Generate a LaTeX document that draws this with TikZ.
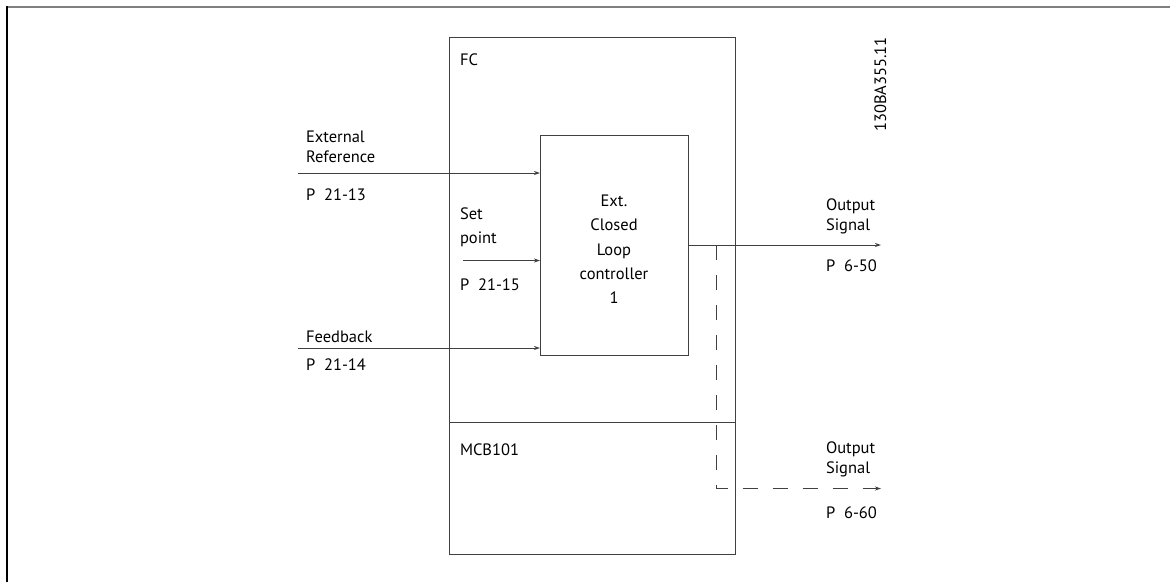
\documentclass[tikz,border=0pt]{standalone}
\usepackage{fontspec}
\setmainfont{PT Sans}
\usetikzlibrary{arrows.meta}
\begin{document}
\begin{tikzpicture}[x=1pt,y=-1pt,
  every node/.style={inner sep=0pt,outer sep=0pt},
  txt/.style={font=\fontsize{16.5}{20}\selectfont,anchor=base west},
  boxline/.style={draw=black!75,line width=1pt},
  arr/.style={draw=black!75,line width=1pt,-{Stealth[length=6pt,width=4pt]}},
  dasharr/.style={arr,dash pattern=on 15pt off 15pt}]
\useasboundingbox (0,0) rectangle (1170,582);
% frame
\draw[black!50,line width=2pt] (6,6.5) -- (1170,6.5);
\draw[black,line width=2pt] (6.5,6) -- (6.5,582);
% FC box
\node[boxline,anchor=north west,minimum width=286pt,minimum height=517pt] (fc) at (449,37) {};
\node[boxline,anchor=north west,minimum width=286pt,minimum height=132pt] (mcb) at (449,422) {};
\node[txt] (fclbl) at (460,65) {FC};
\node[txt] (mcblbl) at (460,455) {MCB101};
% controller
\node[boxline,anchor=north west,minimum width=148pt,minimum height=220pt] (ctrl) at (540,135.5) {};
\node[font=\fontsize{16.5}{24.3}\selectfont,align=center,anchor=north] (ctrltxt) at (614,195) {Ext.\\Closed\\Loop\\controller\\1};
% inputs
\coordinate (er) at (298,173);
\coordinate (sp) at (463,260.5);
\coordinate (fb) at (298,348);
\draw[arr] (er) -- (er -| ctrl.west);
\draw[arr] (sp) -- (sp -| ctrl.west);
\draw[arr] (fb) -- (fb -| ctrl.west);
\node[txt] (erl1) at (306,142) {External};
\node[txt] (erl2) at (306,162.5) {Reference};
\node[txt] (erp) at (306,200) {P~~21-13};
\node[txt] (spl1) at (460,219) {Set};
\node[txt] (spl2) at (460,243) {point};
\node[txt] (spp) at (460,290) {P~~21-15};
\node[txt] (fbl) at (306,342.5) {Feedback};
\node[txt] (fbp) at (306,370) {P~~21-14};
% outputs
\coordinate (o1) at (881,245);
\coordinate (dtop) at (716,245);
\coordinate (dcor) at (716,488.5);
\coordinate (o2) at (881,488.5);
\draw[arr] (ctrl.east |- o1) -- (o1);
\draw[dasharr] (dtop) -- (dcor) -- (o2);
\node[txt] (o1l1) at (826,210) {Output};
\node[txt] (o1l2) at (826,230.5) {Signal};
\node[txt] (o1p) at (826,271) {P~~6-50};
\node[txt] (o2l1) at (826,453) {Output};
\node[txt] (o2l2) at (826,473.5) {Signal};
\node[txt] (o2p) at (826,518) {P~~6-60};
% drawing number
\node[font=\fontsize{16.5}{20}\selectfont,rotate=90,anchor=base] (num) at (886,84.5) {130BA355.11};
\end{tikzpicture}
\end{document}
